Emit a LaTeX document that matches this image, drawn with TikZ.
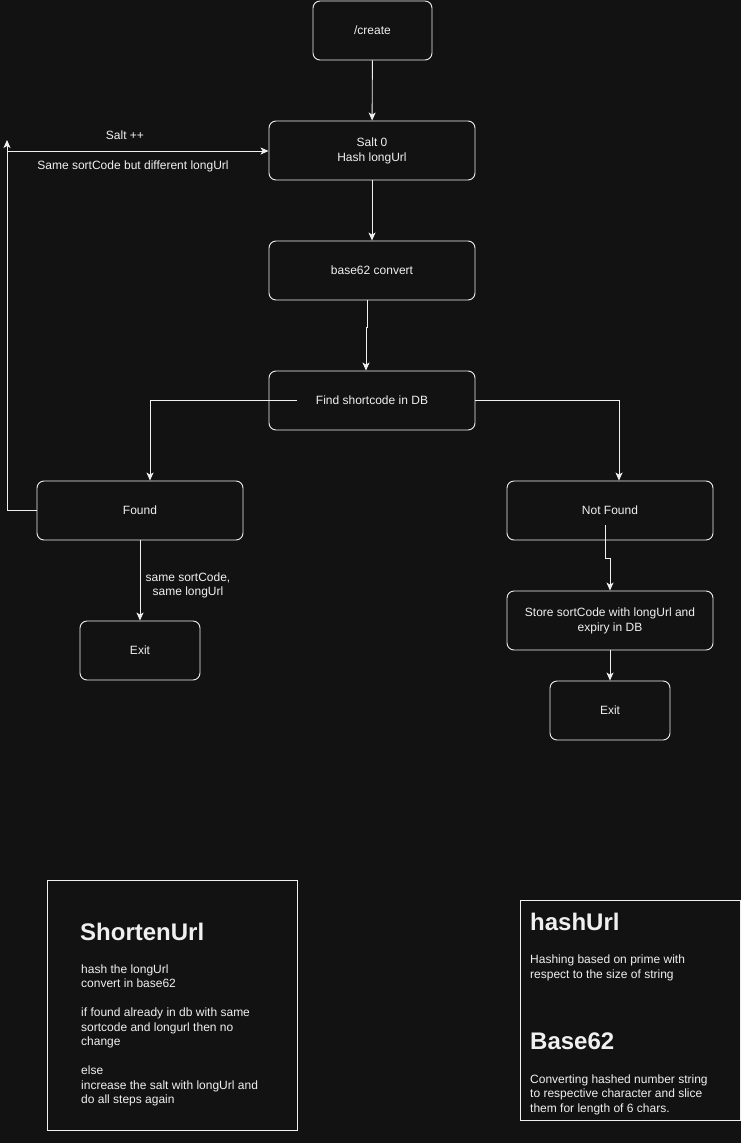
\documentclass[tikz,border=0pt]{standalone}
\usepackage{fontspec}
\setmainfont{Liberation Sans}
\usepackage{xcolor}
\usetikzlibrary{arrows.meta}
\definecolor{darkbg}{HTML}{121212}
\definecolor{inkwhite}{HTML}{F0F0F0}

\tikzset{
  flowbox/.style={draw=inkwhite,rounded corners=7pt,line width=0.9pt,
    minimum height=59pt,align=center,text=inkwhite,text depth=1.5pt,
    font=\fontsize{12}{14.5}\selectfont},
  link/.style={draw=inkwhite,line width=0.9pt,
    -{Stealth[length=8pt,width=7pt,inset=2pt]}},
  notebox/.style={draw=inkwhite,line width=0.9pt},
  notehead/.style={anchor=west,text=inkwhite,font=\fontsize{24}{28}\selectfont\bfseries,inner sep=0pt},
  notetext/.style={anchor=north west,align=left,text=inkwhite,
    font=\fontsize{12}{14.5}\selectfont,inner sep=0pt},
  edgetext/.style={text=inkwhite,align=center,font=\fontsize{12}{14.5}\selectfont,inner sep=1pt}
}

\begin{document}
\begin{tikzpicture}[x=1pt,y=-1pt]
    \fill[darkbg] (0,0) rectangle (741,1143);
    \useasboundingbox (0,0) rectangle (741,1143);
    % main flow
    \node[flowbox,minimum width=119pt] (create) at (372.5,30.5) {/create};
    \node[flowbox,minimum width=206pt] (salt) at (372,150.5) {Salt 0\\Hash longUrl};
    \node[flowbox,minimum width=206pt] (conv) at (372,270.5) {base62 convert};
    \node[flowbox,minimum width=206pt] (find) at (372,400.5) {Find shortcode in DB};
    \node[flowbox,minimum width=206pt] (found) at (140,510.5) {Found};
    \node[flowbox,minimum width=206pt] (notfound) at (610,510.5) {Not Found};
    \node[flowbox,minimum width=206pt] (store) at (610,620.5) {Store sortCode with longUrl and\\expiry in DB};
    \node[flowbox,minimum width=120pt] (exitA) at (140,650.5) {Exit};
    \node[flowbox,minimum width=120pt] (exitB) at (610,710.5) {Exit};
    \coordinate (findL) at (297,400.5);
    \coordinate (loopTop) at (7,140);
    \coordinate (loopStart) at (7,151);
    \coordinate (nfStart) at (605.5,525);

    \draw[link] (create) -- (salt);
    \draw[link] (salt) -- (conv);
    \draw[link] (conv.south -| 367,0) -- (367,327) -- (366,327) -- (find.north -| 366,0);
    \draw[link] (findL) -| (found.north -| 150,0);
    \draw[link] (find.east) -| (notfound.north -| 619,0);
    \draw[link] (found.west) -| (loopTop);
    \draw[link] (loopStart) -- (loopStart -| salt.west);
    \draw[link] (found.south) -- (exitA.north);
    \draw[link] (nfStart) -- (605.5,558) -- (610,558) -- (store.north);
    \draw[link] (store) -- (exitB);

    \node[edgetext] (saltInc) at (125,135) {Salt ++};
    \node[edgetext] (diffUrl) at (133,166) {Same sortCode but different longUrl};
    \node[edgetext] (sameUrl) at (188,585.5) {same sortCode,\\same longUrl};

    % notes
    \draw[notebox] (47,880.5) rectangle (297,1130);
    \node[notehead] (shortHead) at (80,931.5) {ShortenUrl};
    \node[notetext] (shortBody) at (81,964.5) {hash the longUrl\\convert in base62\\[14.5pt]if found already in db with same\\sortcode and longurl then no\\change\\[14.5pt]else\\increase the salt with longUrl and\\do all steps again};
    \draw[notebox] (520.5,900) rectangle (740,1120);
    \node[notehead] (hashHead) at (530,921.5) {hashUrl};
    \node[notetext] (hashBody) at (530,955) {Hashing based on prime with\\respect to the size of string};
    \node[notehead] (baseHead) at (530,1041.5) {Base62};
    \node[notetext] (baseBody) at (530,1074.5) {Converting hashed number string\\to respective character and slice\\them for length of 6 chars.};
  \end{tikzpicture}
\end{document}
